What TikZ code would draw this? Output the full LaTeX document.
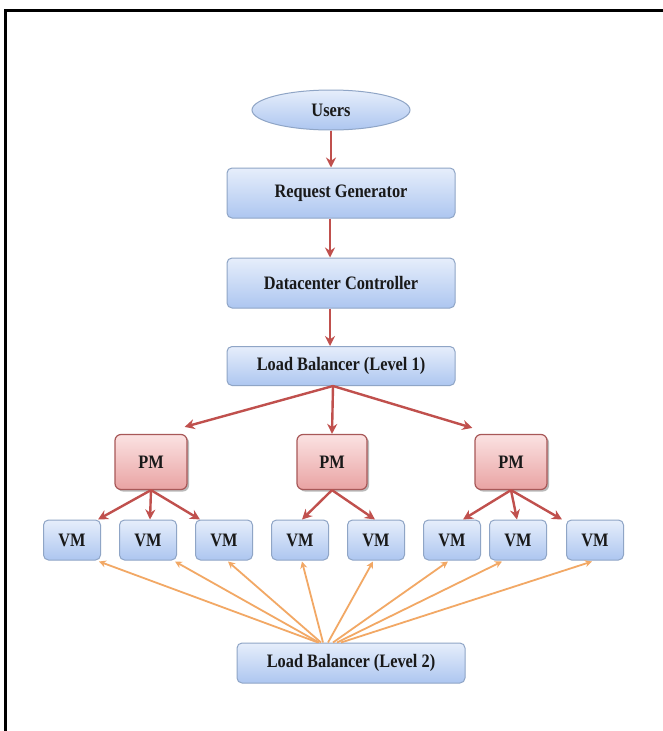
\documentclass[tikz,border=0pt]{standalone}
\usepackage{fontspec}
\setmainfont[FakeStretch=0.86]{Liberation Serif}
\usetikzlibrary{shapes.geometric,arrows.meta,shadows}
\definecolor{bluetop}{HTML}{E6EEFB}
\definecolor{bluebot}{HTML}{ADC6F0}
\definecolor{blueline}{HTML}{8FA5C6}
\definecolor{pinktop}{HTML}{FBE2E2}
\definecolor{pinkbot}{HTML}{E9A3A3}
\definecolor{pinkline}{HTML}{A85858}
\definecolor{redarrow}{HTML}{C0504D}
\definecolor{orangearrow}{HTML}{F2A865}
\tikzset{
  txt/.style={font=\fontsize{19}{21}\selectfont\bfseries, text=black!90, inner sep=0pt},
  bluebox/.style={txt, rectangle, rounded corners=5pt, draw=blueline, line width=1pt,
    top color=bluetop, bottom color=bluebot},
  userell/.style={txt, ellipse, draw=blueline, line width=1pt,
    top color=bluetop, bottom color=bluebot, minimum width=158pt, minimum height=40pt},
  wide/.style={bluebox, minimum width=228pt},
  vmbox/.style={bluebox, minimum width=57pt, minimum height=40pt},
  pmbox/.style={txt, rectangle, rounded corners=6pt, draw=pinkline, line width=1.2pt,
    top color=pinktop, bottom color=pinkbot, minimum height=55pt,
    drop shadow={shadow xshift=2pt, shadow yshift=-2pt, fill=black!45, opacity=0.6}},
  redarr/.style={draw=redarrow, line width=2.4pt, -{Stealth[length=10pt,width=10pt]}},
  orarr/.style={draw=orangearrow, line width=1.8pt, -{Stealth[length=7pt,width=7pt]}},
}
\begin{document}
\begin{tikzpicture}[x=1pt,y=-1pt]
\useasboundingbox (0,0) rectangle (663,731);
\fill[white] (0,0) rectangle (663,731);
% frame
\draw[line width=3pt, black] (5,731) -- (5,10) -- (663,10);

% nodes
\node[userell] (users) at (331,110) {Users};
\node[wide, minimum height=50pt] (rg) at (341,193) {Request Generator};
\node[wide, minimum height=50pt] (dc) at (341,283) {Datacenter Controller};
\node[wide, minimum height=39pt] (lb1) at (341,366) {Load Balancer (Level 1)};

\node[pmbox, minimum width=72pt] (pm1) at (151,462) {PM};
\node[pmbox, minimum width=70pt] (pm2) at (332,462) {PM};
\node[pmbox, minimum width=72pt] (pm3) at (511,462) {PM};

\node[vmbox] (vm1) at (72,540) {VM};
\node[vmbox] (vm2) at (148,540) {VM};
\node[vmbox] (vm3) at (224,540) {VM};
\node[vmbox] (vm4) at (300,540) {VM};
\node[vmbox] (vm5) at (376,540) {VM};
\node[vmbox] (vm6) at (452,540) {VM};
\node[vmbox] (vm7) at (518,540) {VM};
\node[vmbox] (vm8) at (595,540) {VM};

\node[wide, minimum height=40pt] (lb2) at (351,663) {Load Balancer (Level 2)};

% red arrows (top chain)
\draw[redarr] (users.south) -- (users.south |- rg.north);
\draw[redarr] ([xshift=-11pt]rg.south) -- ([xshift=-11pt]dc.north);
\draw[redarr] ([xshift=-11pt]dc.south) -- ([xshift=-11pt]lb1.north);

% LB1 to PMs
\draw[redarr] ([xshift=-8pt]lb1.south) -- ([xshift=-3pt,yshift=7pt]pm1.north east);
\draw[redarr] ([xshift=-8pt]lb1.south) -- (pm2.north);
\draw[redarr] ([xshift=-8pt]lb1.south) -- ([xshift=-2pt,yshift=6pt]pm3.north west);

% PMs to VMs
\draw[redarr] (pm1.south) -- ([xshift=-3pt]vm1.north east);
\draw[redarr] (pm1.south) -- ([xshift=2pt]vm2.north);
\draw[redarr] (pm1.south) -- ([xshift=5pt]vm3.north west);
\draw[redarr] (pm2.south) -- ([xshift=2pt]vm4.north);
\draw[redarr] (pm2.south) -- ([xshift=-1pt]vm5.north);
\draw[redarr] (pm3.south) -- ([xshift=11pt]vm6.north);
\draw[redarr] (pm3.south) -- ([xshift=-1pt]vm7.north);
\draw[redarr] (pm3.south) -- ([xshift=-4pt]vm8.north west);

% LB2 to VMs
\draw[orarr] ([xshift=-33pt]lb2.north) -- ([xshift=-2pt,yshift=-1pt]vm1.south east);
\draw[orarr] ([xshift=-32pt]lb2.north) -- ([xshift=-2pt,yshift=-1pt]vm2.south east);
\draw[orarr] ([xshift=-30pt]lb2.north) -- ([xshift=4pt,yshift=-1pt]vm3.south);
\draw[orarr] ([xshift=-28pt]lb2.north) -- ([xshift=2pt,yshift=-1pt]vm4.south);
\draw[orarr] ([xshift=-23pt]lb2.north) -- ([xshift=-3pt,yshift=-1pt]vm5.south);
\draw[orarr] ([xshift=-18pt]lb2.north) -- ([xshift=-4pt,yshift=-1pt]vm6.south);
\draw[orarr] ([xshift=-14pt]lb2.north) -- ([xshift=13pt,yshift=-1pt]vm7.south west);
\draw[orarr] ([xshift=-10pt]lb2.north) -- ([xshift=-3pt,yshift=-1pt]vm8.south);
\end{tikzpicture}
\end{document}
